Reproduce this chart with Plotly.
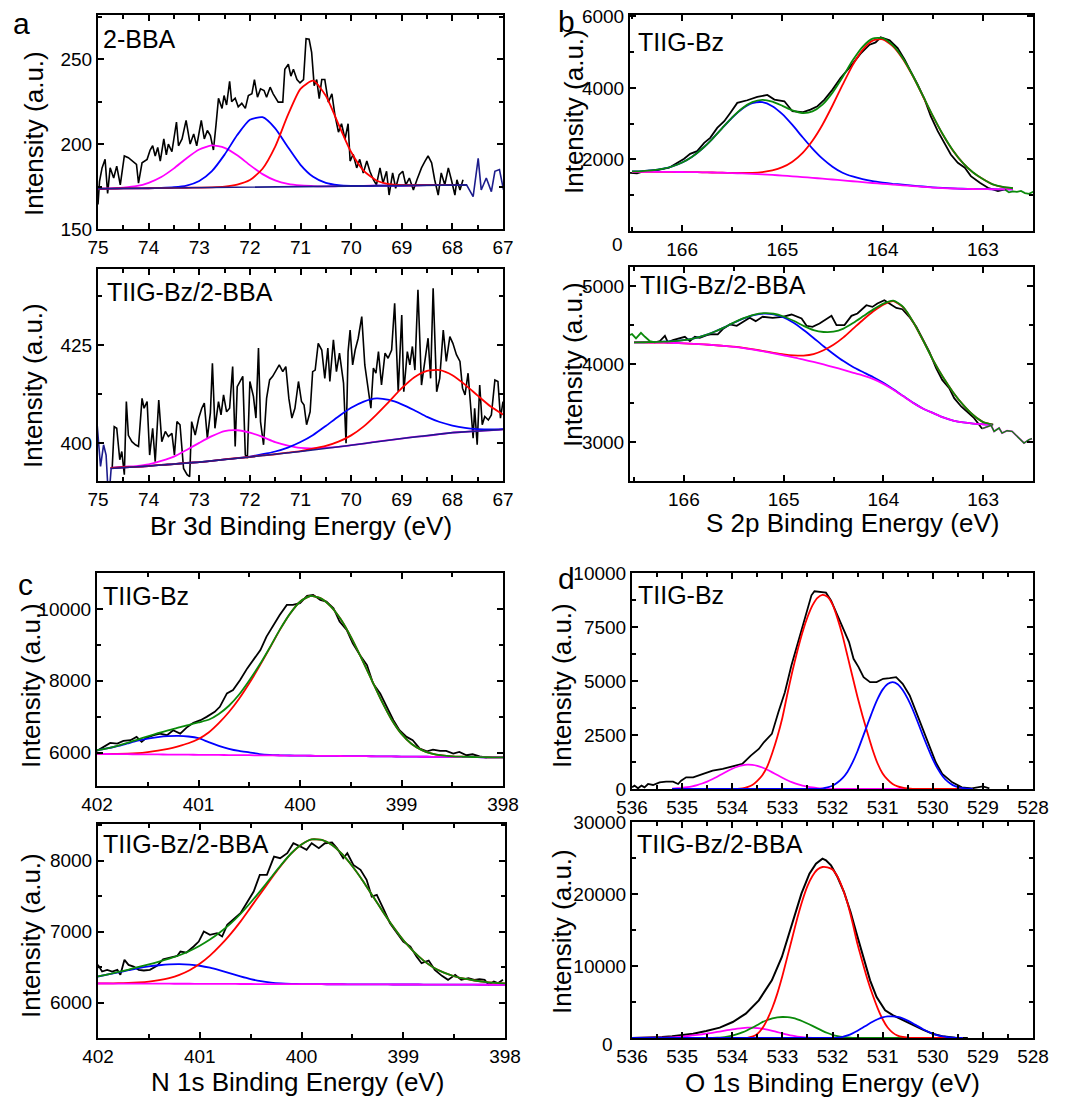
import plotly.graph_objects as go

W, H = 1067, 1099
FONT = "Liberation Sans, Arial, Helvetica, sans-serif"

# ---------------- Panel a (Br 3d) ----------------
A1_RAW = [(75.0,164.4),(74.97,178),(74.92,186),(74.86,191),(74.81,171),(74.76,186),(74.69,180),(74.63,187),(74.56,176),(74.48,193),(74.40,192),(74.33,190),(74.24,188),(74.20,177),(74.13,189),(74.03,191),(73.97,196.5),(73.92,199),(73.87,193),(73.82,198),(73.77,190),(73.70,203),(73.65,193.6),(73.61,200),(73.54,195.5),(73.45,213),(73.41,199),(73.34,203),(73.26,214),(73.18,200),(73.11,206),(73.05,199),(72.96,214),(72.90,203),(72.84,208),(72.78,205),(72.72,196.5),(72.67,211),(72.62,227),(72.55,221),(72.51,228.6),(72.46,223),(72.40,237),(72.36,225),(72.29,227),(72.23,222),(72.16,224),(72.09,221),(72.03,228.6),(71.96,229.6),(71.91,238),(71.85,227.6),(71.79,232.5),(71.72,231.5),(71.67,227.6),(71.60,233.5),(71.54,229.6),(71.44,224.7),(71.35,224.7),(71.31,244),(71.24,247),(71.19,240),(71.14,244),(71.07,238),(71.01,236),(70.94,238),(70.89,262),(70.83,261.7),(70.78,254),(70.73,234.4),(70.68,238),(70.63,226.7),(70.58,238),(70.52,238),(70.45,224.7),(70.38,229.6),(70.32,217),(70.25,207),(70.19,212),(70.12,203),(70.06,212),(70.02,190),(69.96,194),(69.89,186),(69.83,191),(69.76,183),(69.69,190),(69.63,184),(69.56,179),(69.50,176),(69.43,186),(69.37,177),(69.30,184),(69.25,170),(69.18,183),(69.12,174),(69.05,182),(68.98,184),(68.92,176),(68.85,180),(68.77,173),(68.70,179),(68.61,186),(68.54,190),(68.48,193),(68.41,189),(68.35,179),(68.28,170),(68.22,183),(68.15,176),(68.08,186),(68.02,179),(67.95,170),(67.91,179),(67.85,173),(67.79,179)]
A1_BASE = [(75.0,173.7),(67.79,176.0),(67.72,176),(67.59,169),(67.49,191.6),(67.43,173),(67.33,180),(67.23,172),(67.16,184),(67.07,185),(66.99,173),(66.93,189.7)]
A1_FIT_E = [75.0,74.75,74.5,74.25,74.0,73.75,73.5,73.25,73.0,72.75,72.5,72.25,72.0,71.75,71.5,71.25,71.0,70.75,70.5,70.25,70.0,69.75,69.5,69.25,69.0,68.5,68.0,67.75]
A1_MAG = [173.7,173.9,174.4,175.2,177.2,180.6,185.7,191.7,196.8,199.2,197.8,193.4,187.6,182.3,178.6,176.5,175.6,175.3,175.1,175.2,175.3,175.4,175.5,175.5,175.6,175.8,175.9,176.0]
A1_BLUE = [173.7,173.8,173.9,173.9,174.0,174.2,174.6,175.6,178.3,184.1,193.8,205.3,214.3,215.8,209.3,198.3,187.8,180.7,177.1,175.8,175.4,175.4,175.5,175.5,175.6,175.8,175.9,176.0]
A1_RED = [173.7,173.8,173.9,173.9,174.0,174.1,174.2,174.3,174.4,174.5,174.9,176.1,178.8,185.5,198.5,217.0,232.5,237.3,228.4,211.7,195.3,184.2,178.6,176.4,175.8,175.8,175.9,176.0]

A2_RAW = [(74.72,393.6),(74.68,404.2),(74.63,403.8),(74.57,395.8),(74.53,397.9),(74.48,392),(74.44,410.6),(74.40,402),(74.33,400.4),(74.26,399.6),(74.20,399.2),(74.13,411.4),(74.09,408.9),(74.03,410.6),(73.98,397),(73.92,403.8),(73.87,395.3),(73.80,411),(73.74,400.4),(73.67,403),(73.61,401.7),(73.54,402.5),(73.49,397),(73.44,405.5),(73.38,404.7),(73.31,393.6),(73.24,392),(73.19,391.5),(73.15,405.5),(73.08,402.1),(73.01,406.4),(72.95,408.9),(72.90,410.2),(72.84,401.3),(72.78,407.7),(72.74,420.3),(72.69,403.8),(72.62,410.6),(72.57,407.2),(72.52,412.3),(72.46,408),(72.40,408.9),(72.34,419.5),(72.29,399.2),(72.25,414.4),(72.19,415.7),(72.14,417),(72.09,397),(72.05,396.2),(72.00,415.7),(71.93,411.9),(71.88,406.4),(71.83,424.2),(71.79,405.5),(71.73,399.6),(71.67,411.4),(71.61,416.1),(71.55,417),(71.48,418.6),(71.42,419.9),(71.35,418.2),(71.29,419.5),(71.23,411.4),(71.17,406.4),(71.11,408.9),(71.04,415.7),(70.98,410.6),(70.93,409.7),(70.88,404.7),(70.81,408),(70.76,418.2),(70.71,418.6),(70.65,425.4),(70.58,423.7),(70.52,416.5),(70.46,424.2),(70.42,415.7),(70.35,426.3),(70.29,418.2),(70.23,422.9),(70.15,415.3),(70.10,400),(70.06,423.3),(70.02,428.8),(69.97,419.9),(69.92,423.7),(69.86,426.7),(69.79,432.2),(69.73,419.9),(69.66,413.1),(69.61,408.9),(69.56,419.1),(69.51,417.8),(69.46,423.3),(69.40,414.8),(69.33,422.9),(69.27,421.6),(69.20,423.7),(69.14,435.6),(69.07,413.1),(69.00,432.6),(68.96,413.1),(68.89,423.3),(68.84,419.9),(68.79,424.6),(68.74,418.6),(68.68,439),(68.61,414.8),(68.54,422),(68.48,426.7),(68.43,416.5),(68.38,439.4),(68.31,413.1),(68.25,416.5),(68.18,428.8),(68.12,420.8),(68.05,427.1),(67.99,425.4),(67.92,422.5),(67.85,420.8),(67.80,414),(67.75,412.3),(67.69,417.8),(67.64,409.3),(67.59,401.3),(67.56,408.9),(67.51,399.6),(67.46,414.8),(67.41,404.7),(67.36,406.8),(67.29,405.9),(67.23,407.2),(67.16,416.1),(67.10,415.7),(67.05,406.4),(67.00,410.6)]
A2_BASE = [(75.03,406.8),(74.95,394.1),(74.89,399.6),(74.84,397),(74.79,385.2),(74.74,393.6),(74.0,394.2),(73.0,395.2),(72.0,396.5),(71.0,397.9),(70.0,399.5),(69.0,401.2),(68.0,402.7),(67.0,403.5)]
A2_FIT_E = [74.75,74.5,74.25,74.0,73.75,73.5,73.25,73.0,72.75,72.5,72.25,72.0,71.75,71.5,71.25,71.0,70.75,70.5,70.25,70.0,69.75,69.5,69.25,69.0,68.75,68.5,68.25,68.0,67.75,67.5,67.25,67.0]
A2_MAG = [393.7,394.0,394.2,394.6,395.5,396.6,398.3,400.1,401.8,403.1,403.3,402.7,401.6,400.3,399.4,398.8,398.7,398.9,399.1,399.5,399.9,400.4,400.8,401.2,401.6,401.9,402.3,402.7,402.9,403.1,403.3,403.5]
A2_BLUE = [393.7,393.9,394.0,394.2,394.5,394.7,395.0,395.2,395.5,395.9,396.2,396.6,397.2,397.9,398.9,400.3,402.1,404.4,406.8,409.0,410.6,411.4,411.0,409.9,408.4,406.7,405.4,404.5,403.9,403.6,403.5,403.6]
A2_RED = [393.7,393.9,394.0,394.2,394.5,394.7,395.0,395.2,395.5,395.9,396.2,396.5,396.9,397.2,397.6,398.0,398.6,399.3,400.4,402.0,404.3,407.3,410.6,414.0,416.8,418.4,418.6,417.3,414.9,412.1,409.4,407.3]

# ---------------- Panel b (S 2p) ----------------
B1_RAW = [(166.52,1628),(166.45,1610),(166.38,1675),(166.25,1703),(166.13,1768),(166.05,1907),(165.98,2019),(165.92,2159),(165.85,2233),(165.78,2466),(165.72,2605),(165.65,2884),(165.58,3070),(165.52,3302),(165.45,3582),(165.35,3656),(165.25,3749),(165.15,3805),(165.08,3675),(164.98,3628),(164.90,3349),(164.80,3321),(164.72,3395),(164.65,3488),(164.58,3675),(164.50,3954),(164.42,4279),(164.32,4605),(164.22,4958),(164.13,5209),(164.07,5274),(164.02,5414),(163.93,5330),(163.85,5116),(163.78,4791),(163.72,4465),(163.65,4093),(163.58,3675),(163.52,3209),(163.45,2791),(163.38,2419),(163.32,2140),(163.25,1907),(163.18,1768),(163.12,1535),(163.03,1349),(162.95,1210),(162.85,1117),(162.78,1163)]
B1_TAIL = [(162.78,1163),(162.74,1080),(162.70,1110),(162.66,1095),(162.62,1120),(162.58,1060),(162.54,1040),(162.50,1095),(162.47,1080)]
B1_FIT_E = [166.5,166.4,166.3,166.2,166.1,166.0,165.9,165.8,165.7,165.6,165.5,165.4,165.3,165.2,165.1,165.0,164.9,164.8,164.7,164.6,164.5,164.4,164.3,164.2,164.1,164.0,163.9,163.8,163.7,163.6,163.5,163.4,163.3,163.2,163.1,163.0,162.9,162.8,162.7]
B1_MAG = [1656,1655,1654,1652,1651,1650,1647,1642,1636,1629,1620,1609,1597,1584,1568,1550,1530,1508,1486,1463,1440,1415,1391,1366,1342,1320,1298,1277,1257,1236,1215,1200,1188,1180,1174,1170,1167,1164,1163]
B1_BLUE = [1665,1675,1695,1734,1804,1916,2079,2300,2572,2876,3174,3421,3572,3602,3491,3267,2965,2629,2306,2024,1799,1630,1525,1450,1395,1355,1320,1295,1270,1245,1222,1205,1192,1182,1176,1171,1168,1165,1163]
B1_RED = [1656,1655,1654,1652,1651,1650,1647,1642,1636,1630,1626,1623,1627,1648,1694,1784,1938,2178,2524,2972,3510,4084,4632,5067,5325,5360,5174,4819,4336,3782,3218,2699,2255,1903,1639,1454,1300,1230,1195]
B1_GREEN = [1665,1675,1695,1734,1804,1916,2079,2300,2572,2878,3180,3435,3602,3666,3617,3501,3373,3299,3344,3533,3869,4299,4766,5151,5378,5395,5196,4837,4349,3791,3225,2704,2259,1905,1641,1455,1303,1231,1195]

B2_RAW = [(166.29,4281),(166.24,4298),(166.19,4366),(166.16,4281),(166.11,4311),(166.04,4332),(165.99,4353),(165.94,4298),(165.89,4353),(165.84,4340),(165.77,4374),(165.72,4387),(165.66,4383),(165.61,4451),(165.54,4511),(165.47,4494),(165.41,4545),(165.34,4596),(165.28,4553),(165.21,4609),(165.11,4596),(165.01,4609),(164.92,4638),(164.87,4617),(164.82,4587),(164.77,4494),(164.71,4481),(164.64,4523),(164.57,4587),(164.52,4621),(164.47,4502),(164.39,4502),(164.32,4621),(164.26,4651),(164.17,4757),(164.11,4736),(164.06,4779),(163.99,4821),(163.94,4779),(163.87,4723),(163.81,4706),(163.74,4609),(163.67,4481),(163.61,4332),(163.54,4162),(163.47,3949),(163.41,3800),(163.34,3694),(163.29,3566),(163.22,3460),(163.16,3396),(163.09,3311),(163.04,3226),(163.01,3175)]
B2_HEAD = [(166.57,4362),(166.52,4387),(166.48,4332),(166.43,4404),(166.39,4353),(166.34,4298),(166.29,4281)]
B2_TAIL = [(163.01,3175),(162.97,3192),(162.92,3217),(162.89,3141),(162.84,3183),(162.81,3119),(162.76,3149),(162.71,3141),(162.66,3077),(162.59,2992),(162.54,3034),(162.51,3047)]
B2_FIT_E = [166.5,166.4,166.3,166.2,166.1,166.0,165.9,165.8,165.7,165.6,165.5,165.4,165.3,165.2,165.1,165.0,164.9,164.8,164.7,164.6,164.5,164.4,164.3,164.2,164.1,164.0,163.9,163.8,163.7,163.6,163.5,163.4,163.3,163.2,163.1,163.0,162.9]
B2_MAG = [4281,4280,4279,4277,4273,4268,4262,4255,4246,4236,4224,4208,4188,4165,4140,4115,4090,4060,4030,3998,3965,3928,3890,3855,3810,3750,3675,3590,3505,3430,3375,3320,3280,3255,3240,3232,3225]
B2_BLUE = [4282,4283,4285,4290,4297,4311,4334,4368,4414,4470,4532,4588,4631,4650,4640,4600,4533,4440,4338,4232,4133,4041,3962,3898,3834,3763,3681,3593,3506,3431,3375,3320,3280,3255,3240,3232,3225]
B2_RED = [4281,4280,4279,4277,4273,4268,4262,4255,4246,4236,4226,4211,4192,4170,4148,4128,4115,4112,4130,4180,4250,4345,4460,4575,4680,4765,4810,4730,4540,4300,4050,3830,3640,3480,3350,3260,3228]
B2_GREEN = [4282,4283,4285,4290,4297,4311,4334,4368,4414,4470,4534,4591,4635,4655,4648,4613,4558,4492,4438,4414,4418,4458,4532,4618,4704,4778,4816,4733,4541,4301,4050,3830,3640,3480,3350,3260,3228]

# ---------------- Panel c (N 1s) ----------------
C1_RAW = [(402.0,6047),(401.93,6177),(401.87,6270),(401.8,6251),(401.74,6326),(401.67,6344),(401.61,6437),(401.56,6298),(401.51,6419),(401.44,6484),(401.38,6530),(401.31,6484),(401.25,6623),(401.18,6530),(401.11,6716),(401.05,6828),(400.98,6902),(400.92,6995),(400.84,7135),(400.79,7275),(400.72,7647),(400.66,7740),(400.59,8019),(400.52,8344),(400.46,8577),(400.39,8856),(400.33,9228),(400.26,9553),(400.2,9833),(400.13,10112),(400.07,10112),(400.0,10158),(399.93,10363),(399.87,10391),(399.8,10251),(399.74,10205),(399.67,10019),(399.61,9647),(399.54,9414),(399.48,9042),(399.41,8716),(399.34,8437),(399.28,7926),(399.21,7647),(399.15,7321),(399.08,6902),(399.02,6623),(398.95,6437),(398.89,6344),(398.82,6112),(398.75,6037),(398.69,6084),(398.62,6047),(398.56,6047),(398.49,5972),(398.43,6019),(398.36,5926),(398.3,5953),(398.23,5898),(398.16,5860)]
C_FIT_E = [402.0,401.9,401.8,401.7,401.6,401.5,401.4,401.3,401.2,401.1,401.0,400.9,400.8,400.7,400.6,400.5,400.4,400.3,400.2,400.1,400.0,399.9,399.8,399.7,399.6,399.5,399.4,399.3,399.2,399.1,399.0,398.9,398.8,398.7,398.6,398.5,398.4,398.3,398.2,398.1,398.0]
C1_MAG = [5963,5961,5958,5956,5953,5951,5948,5946,5944,5941,5939,5936,5934,5931,5929,5927,5924,5922,5919,5917,5914,5912,5910,5907,5905,5902,5900,5898,5895,5893,5890,5888,5885,5883,5881,5878,5876,5873,5871,5868,5866]
C1_BLUE = [6066,6115,6180,6255,6330,6390,6432,6458,6466,6448,6400,6290,6190,6105,6045,6005,5960,5935,5925,5919,5915,5912,5910,5907,5905,5902,5900,5898,5895,5893,5890,5888,5885,5883,5881,5878,5876,5873,5871,5868,5866]
C1_RED = [5965,5965,5966,5970,5985,6015,6055,6105,6175,6260,6380,6560,6820,7130,7500,7930,8400,8900,9410,9860,10200,10360,10300,10080,9720,9230,8660,8060,7460,6930,6520,6240,6070,5970,5920,5895,5885,5878,5872,5869,5866]
C1_GREEN = [6068,6119,6188,6269,6362,6454,6539,6617,6697,6767,6841,6914,7076,7304,7616,8008,8436,8913,9416,9862,10201,10360,10300,10080,9720,9230,8660,8060,7460,6930,6520,6240,6070,5970,5920,5895,5885,5878,5872,5869,5866]

C2_RAW = [(402.03,6296),(402.0,6530),(401.96,6437),(401.91,6460),(401.86,6437),(401.81,6460),(401.78,6390),(401.74,6601),(401.7,6530),(401.65,6507),(401.6,6460),(401.55,6451),(401.49,6460),(401.42,6516),(401.36,6610),(401.29,6638),(401.22,6657),(401.19,6718),(401.13,6704),(401.06,6789),(401.01,6859),(400.96,7000),(400.9,6953),(400.83,6977),(400.78,6930),(400.73,7094),(400.67,7164),(400.6,7258),(400.54,7399),(400.47,7563),(400.41,7798),(400.34,7798),(400.27,8056),(400.21,8033),(400.14,8103),(400.08,8244),(400.01,8197),(399.95,8150),(399.9,8244),(399.83,8174),(399.77,8244),(399.7,8254),(399.65,8174),(399.59,8033),(399.55,8103),(399.49,7939),(399.42,7869),(399.36,7728),(399.31,7493),(399.26,7516),(399.19,7305),(399.13,7117),(399.06,6977),(399.0,6859),(398.93,6789),(398.87,6648),(398.82,6554),(398.75,6592),(398.69,6460),(398.62,6376),(398.56,6319),(398.49,6390),(398.43,6319),(398.36,6343),(398.3,6319),(398.25,6329),(398.2,6319),(398.16,6249),(398.11,6296),(398.07,6272),(398.02,6319)]
C2_MAG = [6268,6268,6267,6267,6266,6266,6265,6265,6264,6264,6263,6263,6262,6262,6261,6261,6260,6260,6259,6259,6259,6258,6258,6257,6257,6256,6256,6255,6255,6254,6254,6254,6253,6253,6252,6252,6251,6251,6250,6250,6250]
C2_BLUE = [6366,6395,6425,6455,6485,6508,6525,6537,6540,6535,6518,6490,6452,6410,6368,6330,6300,6280,6268,6262,6260,6258,6258,6257,6257,6256,6256,6255,6255,6254,6254,6254,6253,6253,6252,6252,6251,6251,6250,6250,6250]
C2_RED = [6270,6270,6272,6276,6283,6295,6315,6345,6390,6455,6545,6660,6800,6960,7140,7340,7540,7740,7930,8100,8225,8298,8290,8220,8090,7920,7720,7500,7280,7070,6880,6720,6590,6490,6420,6370,6335,6310,6290,6278,6270]
C2_GREEN = [6368,6397,6430,6464,6502,6537,6575,6617,6666,6726,6800,6887,6990,7108,7247,7409,7580,7760,7939,8103,8226,8298,8290,8220,8090,7920,7720,7500,7280,7070,6880,6720,6590,6490,6420,6370,6335,6310,6290,6278,6270]

# ---------------- Panel d (O 1s) ----------------
D1_RAW = [(536.0,77),(535.95,155),(535.88,31),(535.81,155),(535.75,77),(535.68,232),(535.58,186),(535.45,309),(535.32,340),(535.18,340),(535.08,232),(535.02,387),(534.92,541),(534.78,541),(534.58,696),(534.39,850),(534.19,928),(533.99,1051),(533.8,1160),(533.63,1546),(533.47,1855),(533.37,2164),(533.21,2551),(533.08,3556),(532.95,4483),(532.82,5720),(532.69,6802),(532.56,7885),(532.42,8967),(532.36,9152),(532.23,9121),(532.13,9090),(532.03,8735),(531.9,8039),(531.77,7344),(531.67,6802),(531.58,6029),(531.48,5643),(531.38,5179),(531.25,4947),(531.12,4947),(530.99,5102),(530.86,5133),(530.73,5179),(530.6,4870),(530.46,4329),(530.33,3556),(530.2,2783),(530.07,2010),(529.94,1237),(529.81,696),(529.61,309),(529.42,77),(529.22,31),(529.0,124),(528.87,31)]
D1_FIT_E = [535.2,535.1,535.0,534.9,534.8,534.7,534.6,534.5,534.4,534.3,534.2,534.1,534.0,533.9,533.8,533.7,533.6,533.5,533.4,533.3,533.2,533.1,533.0,532.9,532.8,532.7,532.6,532.5,532.4,532.3,532.2,532.1,532.0,531.9,531.8,531.7,531.6,531.5,531.4,531.3,531.2,531.1,531.0,530.9,530.8,530.7,530.6,530.5,530.4,530.3,530.2,530.1,530.0,529.9,529.8,529.7,529.6,529.5,529.4,529.3,529.2]
D1_MAG = [20,35,53,83,125,181,254,344,450,570,696,821,936,1031,1096,1128,1120,1074,996,892,771,645,521,406,306,223,157,106,70,44,25,14,7,0,0,0,0,0,0,0,0,0,0,0,0,0,0,0,0,0,0,0,0,0,0,0,0,0,0,0,0]
D1_RED = [0,0,0,0,0,0,0,0,0,0,0,0,0,5,31,90,186,380,640,1050,1680,2420,3300,4400,5450,6400,7250,7950,8500,8850,8990,8900,8550,7900,7100,6150,5200,4250,3380,2580,1820,1180,720,430,230,120,60,25,5,0,0,0,0,0,0,0,0,0,0,0,0]
D1_BLUE = [0,0,0,0,0,0,0,0,0,0,0,0,0,0,0,0,0,0,0,0,0,0,0,0,0,0,0,0,0,0,20,70,150,300,500,800,1230,1760,2380,3000,3620,4170,4600,4860,4947,4850,4580,4180,3680,3100,2500,1920,1380,930,580,340,180,90,45,20,8]

D2_RAW = [(536.0,0),(535.8,30),(535.6,80),(535.4,150),(535.2,250),(535.0,380),(534.78,602),(534.52,972),(534.25,1435),(533.99,2222),(533.73,3380),(533.47,5232),(533.21,8010),(533.01,11251),(532.82,15418),(532.62,20048),(532.46,22826),(532.33,24215),(532.2,24909),(532.13,24678),(532.03,23983),(531.9,22363),(531.77,20279),(531.64,17501),(531.51,14260),(531.38,11019),(531.25,8010),(531.12,5695),(530.95,3843),(530.79,3148),(530.59,2454),(530.4,1759),(530.2,1158),(530.01,602),(529.81,232),(529.55,46),(529.3,0)]
D2_FIT_E = [536.0,535.5,535.2,535.0,534.9,534.8,534.7,534.6,534.5,534.4,534.3,534.2,534.1,534.0,533.9,533.8,533.7,533.6,533.5,533.4,533.3,533.2,533.1,533.0,532.9,532.8,532.7,532.6,532.5,532.4,532.3,532.2,532.1,532.0,531.9,531.8,531.7,531.6,531.5,531.4,531.3,531.2,531.1,531.0,530.9,530.8,530.7,530.6,530.5,530.4,530.3,530.2,530.1,530.0,529.9,529.8,529.7,529.6,529.5,529.4]
D2_MAG = [5,40,100,200,270,360,430,520,620,720,840,960,1080,1190,1290,1380,1430,1435,1380,1290,1160,1000,820,640,470,320,200,110,50,20,5,0,0,0,0,0,0,0,0,0,0,0,0,0,0,0,0,0,0,0,0,0,0,0,0,0,0,0,0,0]
D2_GREEN = [0,0,0,0,0,0,0,0,0,15,45,100,200,340,530,780,1080,1420,1800,2210,2500,2730,2870,2917,2890,2780,2590,2330,2020,1680,1330,990,690,440,260,140,70,30,10,0,0,0,0,0,0,0,0,0,0,0,0,0,0,0,0,0,0,0,0,0]
D2_RED = [0,0,0,0,0,0,0,0,0,0,0,0,0,0,0,0,30,180,560,1350,2600,4200,6200,8600,11300,14000,16700,19100,21100,22500,23400,23750,23700,23400,22400,20800,18700,16000,13000,10500,8100,6000,4150,2600,1450,750,330,140,50,10,0,0,0,0,0,0,0,0,0,0]
D2_BLUE = [0,0,0,0,0,0,0,0,0,0,0,0,0,0,0,0,0,0,0,0,0,0,0,0,0,0,0,0,0,0,0,0,0,10,50,160,360,650,1000,1420,1850,2250,2600,2850,2990,3010,2920,2720,2420,2050,1650,1260,900,600,370,210,110,50,20,5]

# ---------------- Texts ----------------
PANEL_LETTERS = ["a", "b", "c", "d"]
SAMPLE_LABELS = ["2-BBA", "TIIG-Bz/2-BBA", "TIIG-Bz", "TIIG-Bz/2-BBA", "TIIG-Bz", "TIIG-Bz/2-BBA", "TIIG-Bz", "TIIG-Bz/2-BBA"]
X_TITLES = ["Br 3d Binding Energy (eV)", "S 2p Binding Energy (eV)", "N 1s Binding Energy (eV)", "O 1s Binding Energy (eV)"]
Y_TITLE = "Intensity (a.u.)"

BLACK, RED, BLUE, MAG, GREEN, NAVY = "#000000", "#ff0000", "#0000ff", "#ff00ff", "#0a8a0a", "#1c1c8c"

# panel boxes in pixels: (left, right, top, bottom), axis ranges, tick steps
# zero_lbl: the "0" tick label of this panel is drawn apart (offset) as in the original
PANELS = [
    dict(box=(98, 503, 15, 229), xr=[75, 67], yr=[150, 276], ydt=50, ymn=25, xdt=1, xmn=0.5, zero_lbl=None),
    dict(box=(98, 503, 269, 481), xr=[75, 67], yr=[390.4, 444.3], ydt=25, ymn=12.5, xdt=1, xmn=0.5, zero_lbl=None),
    dict(box=(630, 1033, 15, 231), xr=[166.52, 162.5], yr=[0, 6040], ydt=2000, ymn=1000, xdt=1, xmn=0.5, zero_lbl=(617, 244)),
    dict(box=(630, 1033, 267, 481), xr=[166.54, 162.5], yr=[2505, 5247], ydt=1000, ymn=500, xdt=1, xmn=0.5, zero_lbl=None),
    dict(box=(97, 503, 573, 786), xr=[402, 398], yr=[5070, 11000], ydt=2000, ymn=1000, xdt=1, xmn=0.5, zero_lbl=None),
    dict(box=(98, 505, 824, 1038), xr=[402, 398], yr=[5500, 8515], ydt=1000, ymn=500, xdt=1, xmn=0.5, zero_lbl=None),
    dict(box=(632, 1033, 573, 789), xr=[536, 528], yr=[0, 10000], ydt=2500, ymn=1250, xdt=1, xmn=0.5, zero_lbl=None),
    dict(box=(632, 1033, 822, 1038), xr=[536, 528], yr=[0, 30000], ydt=10000, ymn=5000, xdt=1, xmn=0.5, zero_lbl=(607, 1044)),
]


def unzip(pairs):
    return [p[0] for p in pairs], [p[1] for p in pairs]


fig = go.Figure()


def ax_names(i):
    return ("x" if i == 1 else f"x{i}"), ("y" if i == 1 else f"y{i}")


def add(i, x, y, color, width=1.8, spline=False):
    xa, ya = ax_names(i)
    fig.add_trace(go.Scatter(
        x=x, y=y, mode="lines", xaxis=xa, yaxis=ya,
        line=dict(color=color, width=width, shape="spline" if spline else "linear", smoothing=0.6),
        showlegend=False, hoverinfo="skip"))


# Panel a top
x, y = unzip(A1_RAW); add(1, x, y, BLACK, 1.6)
add(1, A1_FIT_E, A1_MAG, MAG, spline=True)
add(1, A1_FIT_E, A1_BLUE, BLUE, spline=True)
add(1, A1_FIT_E, A1_RED, RED, spline=True)
x, y = unzip(A1_BASE); add(1, x, y, NAVY, 1.6)

# Panel a bottom
x, y = unzip(A2_RAW); add(2, x, y, BLACK, 1.6)
add(2, A2_FIT_E, A2_MAG, MAG, spline=True)
add(2, A2_FIT_E, A2_BLUE, BLUE, spline=True)
add(2, A2_FIT_E, A2_RED, RED, spline=True)
x, y = unzip(A2_BASE); add(2, x, y, NAVY, 1.6)

# Panel b top
x, y = unzip(B1_RAW); add(3, x, y, BLACK)
add(3, B1_FIT_E, B1_BLUE, BLUE, spline=True)
add(3, B1_FIT_E, B1_RED, RED, spline=True)
add(3, B1_FIT_E, B1_MAG, MAG, spline=True)
add(3, B1_FIT_E, B1_GREEN, GREEN, spline=True)
x, y = unzip(B1_TAIL); add(3, x, y, GREEN)

# Panel b bottom
x, y = unzip(B2_RAW); add(4, x, y, BLACK)
add(4, B2_FIT_E, B2_BLUE, BLUE, spline=True)
add(4, B2_FIT_E, B2_RED, RED, spline=True)
add(4, B2_FIT_E, B2_MAG, MAG, spline=True)
add(4, B2_FIT_E, B2_GREEN, GREEN, spline=True)
x, y = unzip(B2_TAIL); add(4, x, y, MAG); add(4, x, y, GREEN, 1.4)
x, y = unzip(B2_HEAD); add(4, x, y, GREEN)

# Panel c top
x, y = unzip(C1_RAW); add(5, x, y, BLACK)
add(5, C_FIT_E, C1_BLUE, BLUE, spline=True)
add(5, C_FIT_E, C1_RED, RED, spline=True)
add(5, C_FIT_E, C1_MAG, MAG, spline=True)
add(5, C_FIT_E, C1_GREEN, GREEN, spline=True)

# Panel c bottom
x, y = unzip(C2_RAW); add(6, x, y, BLACK)
add(6, C_FIT_E, C2_BLUE, BLUE, spline=True)
add(6, C_FIT_E, C2_RED, RED, spline=True)
add(6, C_FIT_E, C2_MAG, MAG, spline=True)
add(6, C_FIT_E, C2_GREEN, GREEN, spline=True)

# Panel d top
x, y = unzip(D1_RAW); add(7, x, y, BLACK)
add(7, D1_FIT_E, D1_MAG, MAG, spline=True)
add(7, D1_FIT_E, D1_RED, RED, spline=True)
add(7, D1_FIT_E, D1_BLUE, BLUE, spline=True)

# Panel d bottom
x, y = unzip(D2_RAW); add(8, x, y, BLACK, 2.0)
add(8, D2_FIT_E, D2_MAG, MAG, spline=True)
add(8, D2_FIT_E, D2_GREEN, GREEN, spline=True)
add(8, D2_FIT_E, D2_RED, RED, spline=True)
add(8, D2_FIT_E, D2_BLUE, BLUE, spline=True)

tickfont = dict(family=FONT, size=19, color="black")
layout_axes = {}
ann = []


def text(s, px, py, size, angle=0, xanchor="center", yanchor="middle"):
    ann.append(dict(text=s, x=px / W, y=1 - py / H, xref="paper", yref="paper",
                    showarrow=False, textangle=angle, xanchor=xanchor, yanchor=yanchor,
                    font=dict(family=FONT, size=size, color="black")))


for i, P in enumerate(PANELS, start=1):
    l, r, t, b = P["box"]
    xa, ya = ax_names(i)
    common = dict(showline=True, linecolor="black", linewidth=2, mirror="ticks",
                  ticks="inside", ticklen=6, tickwidth=1.5, tickcolor="black",
                  showgrid=False, zeroline=False, tickfont=tickfont,
                  automargin=False, tickformat="d")
    layout_axes["xaxis" if i == 1 else f"xaxis{i}"] = dict(
        domain=[l / W, r / W], range=P["xr"], anchor=ya, tick0=0, dtick=P["xdt"],
        minor=dict(ticks="inside", ticklen=4, tickwidth=1.5, tickcolor="black", dtick=P["xmn"], tick0=0, showgrid=False),
        **common)
    yax = dict(
        domain=[1 - b / H, 1 - t / H], range=P["yr"], anchor=xa, tick0=0, dtick=P["ydt"],
        minor=dict(ticks="inside", ticklen=4, tickwidth=1.5, tickcolor="black", dtick=P["ymn"], tick0=0, showgrid=False),
        **common)
    if P["zero_lbl"] is not None:
        yax["labelalias"] = {"0": " "}
        text("0", P["zero_lbl"][0], P["zero_lbl"][1], 19)
    layout_axes["yaxis" if i == 1 else f"yaxis{i}"] = yax

fig.update_layout(**layout_axes)

# panel letters
for s, (px, py) in zip(PANEL_LETTERS, [(21, 24), (566, 22), (25, 584), (566, 578)]):
    text(s, px, py, 30)

# sample labels inside panels
for s, (px, py) in zip(SAMPLE_LABELS, [(101, 39), (105, 292), (636, 42), (638, 285),
                                       (101, 596), (101, 844), (636, 595), (635, 844)]):
    text(s, px, py, 25, xanchor="left")

# axis titles
for s, (px, py) in zip(X_TITLES, [(301, 526), (852, 523), (297, 1082), (832, 1083)]):
    text(s, px, py, 26)
for (px, py) in [(34, 134), (33, 386), (574, 112), (573, 365), (31, 686), (31, 936), (562, 686), (562, 932)]:
    text(Y_TITLE, px, py, 26, angle=-90)

fig.update_layout(
    width=W, height=H, margin=dict(l=0, r=0, t=0, b=0, autoexpand=False),
    paper_bgcolor="white", plot_bgcolor="white", showlegend=False,
    annotations=ann, font=dict(family=FONT, color="black"),
)

fig.write_html("out.html",
               config={"displayModeBar": False},
               post_script="document.body.style.margin='0';document.body.style.padding='0';"
                           "document.documentElement.style.overflow='hidden';")
